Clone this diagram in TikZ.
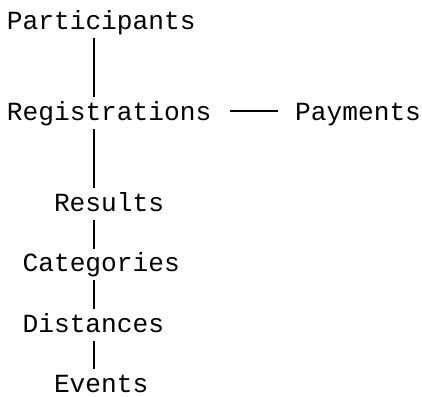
\documentclass[tikz,border=0pt]{standalone}
\usepackage{fontspec}
\setmonofont{Liberation Mono}
\usepackage{tikz}

\begin{document}
\begin{tikzpicture}[x=1pt, y=-1pt,
		table/.style={anchor=base west, inner xsep=0pt, inner ysep=6pt, text height=17pt, text depth=2.5pt, font=\ttfamily\fontsize{26.2}{30}\selectfont},
		link/.style={line width=1.6pt}]
			\useasboundingbox (0,0) rectangle (422,396);
			\coordinate (spine) at (93.8,0);
			% tables, one per text line of the tree
			\node[table] (part) at (6.7,29.3) {Participants};
			\node[table] (reg) at (6.7,120.2) {Registrations};
			\node[table] (pay) at (295,120.2) {Payments};
			\node[table] (res) at (53.8,211.1) {Results};
			\node[table] (cat) at (22.4,271.7) {Categories};
			\node[table] (dist) at (22.4,332.3) {Distances};
			\node[table] (evt) at (53.8,392.6) {Events};
			% links
			\draw[link] (part.south -| spine) -- (reg.north -| spine);
			\draw[link] (reg.south -| spine) -- (res.north -| spine);
			\draw[link] (res.south -| spine) -- (cat.north -| spine);
			\draw[link] (cat.south -| spine) -- (dist.north -| spine);
			\draw[link] (dist.south -| spine) -- (evt.north -| spine);
			\draw[link, line width=1.3pt, shorten <=19pt, shorten >=17pt] ([yshift=9.3pt]reg.base east) -- ([yshift=9.3pt]pay.base west);
		\end{tikzpicture}
\end{document}
